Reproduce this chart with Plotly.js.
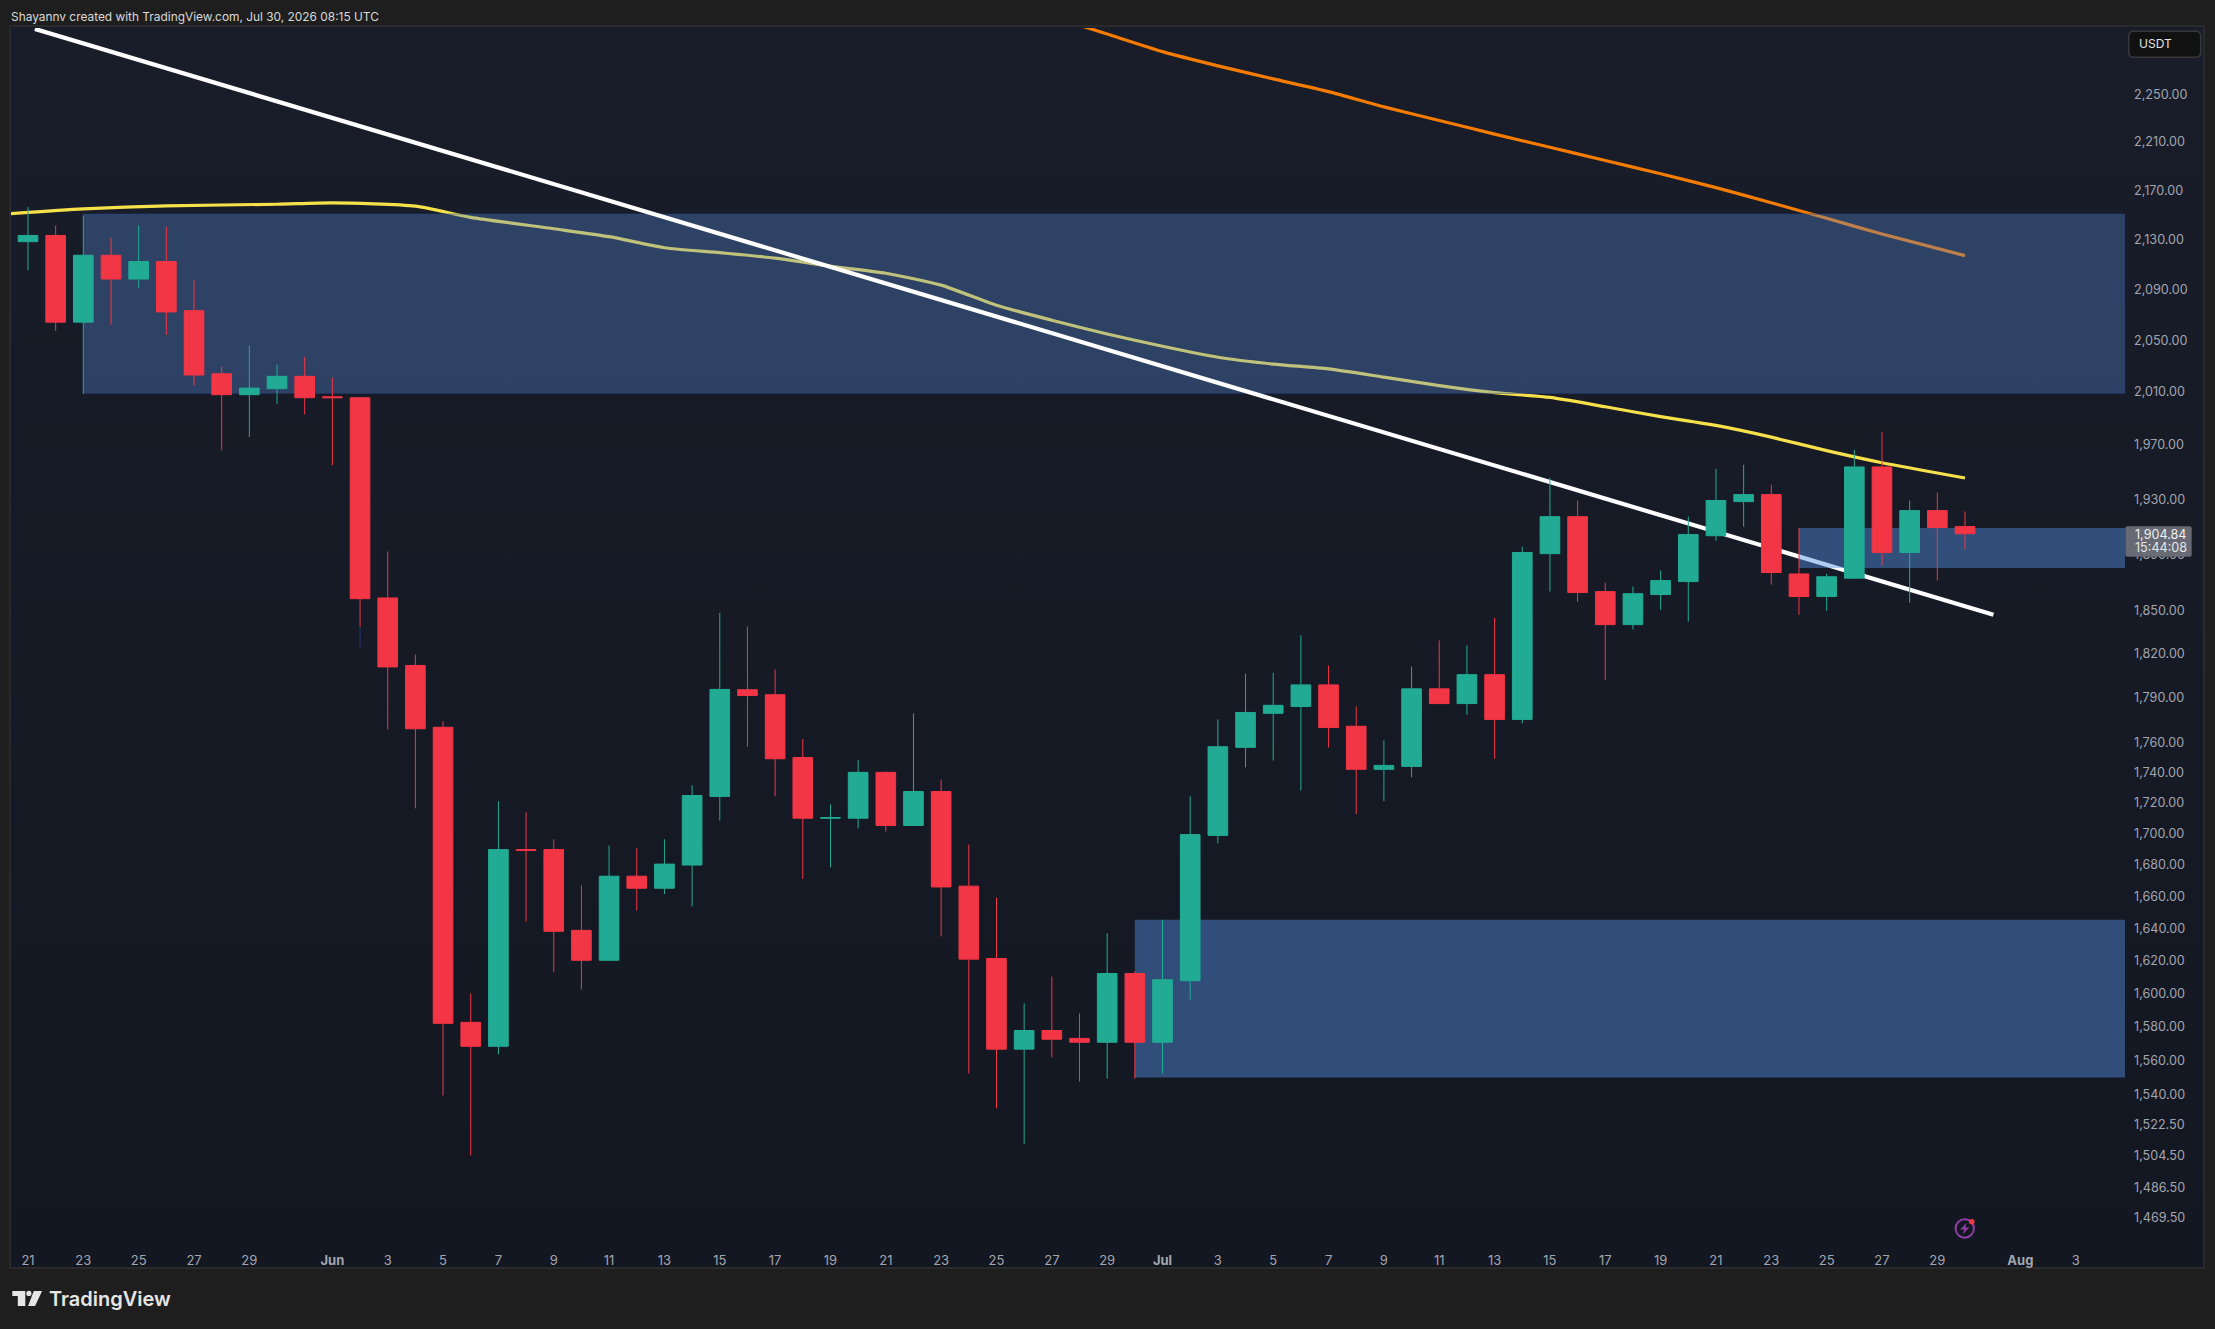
<!DOCTYPE html>
<html>
<head>
<meta charset="utf-8">
<title>ETHUSDT daily</title>
<script src="https://cdn.plot.ly/plotly-3.0.1.min.js"></script>
<style>
  html, body { margin: 0; padding: 0; background: #1e1e1e; }
  #pane { position: absolute; left: 9px; top: 25px; width: 2192px; height: 1240px;
          border: 2px solid #2a2a2d; background: linear-gradient(#181d29, #131722); }
  #chart { position: absolute; left: 0; top: 0; width: 2215px; height: 1329px; }
</style>
</head>
<body>
<div id="pane"></div>
<div id="chart"></div>
<script>
// daily candles, first one is May 21
const startDay = "2026-05-21";
const opens = [2128,2133,2064,2117,2098,2112,2073,2024,2008,2012.6,2022,2006.4,2005.7,1859,1812,1770,1582.6,1568.3,1689.8,1689.8,1638.8,1620.3,1672.8,1665.2,1679.9,1724.2,1795.4,1792,1749.8,1710,1710,1740,1705.3,1727.4,1666.5,1621.4,1566.6,1577.7,1573,1570.7,1612.2,1570.7,1607.8,1698.9,1756.6,1779.4,1784,1798.7,1770.7,1742,1743.9,1796,1786,1805.7,1775.3,1890.5,1917.2,1863.5,1840.3,1861.4,1870.6,1903.4,1928.2,1933.3,1876,1860,1873,1953.7,1891.3,1921.6,1910];
const highs = [2156,2141,2149,2131,2141,2140,2097,2029.4,2045.6,2031,2037,2021,2005.7,1892,1819.5,1774,1600,1721,1713.8,1696.4,1667,1692.4,1690.6,1696.4,1731.5,1848.5,1839,1809.3,1762,1719,1748.3,1740.6,1779.4,1735.3,1693,1659.4,1594,1610.3,1588,1637,1613.5,1645.4,1724.3,1775.3,1806.4,1807,1832.8,1811.9,1784,1761.2,1811.3,1829.3,1825.8,1845,1895.5,1945.7,1929,1869.9,1867,1878.4,1917.2,1952.3,1955.3,1940.6,1909,1876.1,1966.5,1980,1929,1934.8,1921];
const lows = [2105,2057,2008.5,2062,2091,2054,2015,1966,1976,2001,1993,1955,1838.7,1768.5,1716.4,1539.3,1504.7,1563.5,1644.3,1613,1602.5,1620.3,1651.2,1661.5,1653.8,1708.5,1757,1724.3,1671,1678.4,1703.4,1701.3,1705.3,1635,1552.2,1531.8,1511.2,1561.7,1547.5,1549.2,1549.2,1552.2,1596.2,1693.8,1743.3,1747.8,1728,1756.5,1712.6,1721.1,1736.7,1786,1778.5,1749,1772.6,1863.5,1856.2,1802,1836.9,1850.7,1842.4,1899.8,1910,1868.4,1847.2,1850,1872.6,1882,1855.7,1871.3,1893.4];
const closes = [2133,2064,2117,2098,2112,2072,2023,2008,2013,2022,2005.7,2005.7,1858.5,1811,1769,1582,1568.3,1689.8,1689.3,1638.2,1620.3,1672.8,1665.2,1680.5,1724.8,1795.6,1791.5,1749,1710,1710.4,1740,1705.3,1727.4,1666,1621,1566.6,1577.7,1572.5,1570.7,1612.2,1570.7,1608.4,1699.4,1757,1780,1784.8,1798.7,1769.9,1742,1744.6,1796,1786,1805.7,1775.3,1891.3,1917.2,1862.8,1840.3,1862,1871.3,1904.2,1929,1933.3,1877,1860,1874,1953.7,1891.3,1921.6,1909.3,1904.84];

const yellowDays = ["2026-05-20","2026-05-23","2026-05-26","2026-05-30","2026-06-01","2026-06-04","2026-06-06","2026-06-09","2026-06-11","2026-06-13","2026-06-15","2026-06-17","2026-06-19","2026-06-21","2026-06-23","2026-06-25","2026-06-27","2026-06-29","2026-07-01","2026-07-03","2026-07-05","2026-07-07","2026-07-09","2026-07-11","2026-07-13","2026-07-15","2026-07-17","2026-07-19","2026-07-21","2026-07-23","2026-07-25","2026-07-27","2026-07-30"];
const yellowVals = [2150.1,2154.6,2157.1,2158.4,2159.5,2156.8,2147.7,2138.4,2132,2123.1,2119.1,2114.7,2108.2,2102.6,2093.2,2077.3,2065.5,2054.7,2045.2,2036.7,2031.4,2027.7,2021.4,2014.9,2009.5,2005.9,1998.8,1991.3,1984.7,1975.9,1965.8,1956.8,1945.5];

const orangeDays = ["2026-06-27","2026-06-29","2026-07-01","2026-07-03","2026-07-05","2026-07-07","2026-07-09","2026-07-11","2026-07-13","2026-07-15","2026-07-17","2026-07-19","2026-07-21","2026-07-23","2026-07-25","2026-07-27","2026-07-30"];
const orangeVals = [2317.8,2302.3,2287,2274.7,2263.5,2252.6,2239.6,2228.1,2216.6,2205.5,2194.5,2183.5,2172,2159.6,2146.9,2134.1,2116.7];

const trendDays = ["2026-05-21 06:00","2026-07-31 00:40"];
const trendVals = [2306.8,1847.2];

// zones: start day, top price, bottom price
const rangeStart = "2026-05-20 09:16";
const rangeEnd = "2026-08-04 18:46";
const supplyZone = ["2026-05-23", 2150.4, 2009];
const demandZone = ["2026-06-30", 1645.4, 1549.9];
const flipZone = ["2026-07-24", 1909, 1880.2];

const priceTicks = [2250,2210,2170,2130,2090,2050,2010,1970,1930,1890,1850,1820,1790,1760,1740,1720,1700,1680,1660,1640,1620,1600,1580,1560,1540,1522.5,1504.5,1486.5,1469.5];
const dayTicks = ["2026-05-21","2026-05-23","2026-05-25","2026-05-27","2026-05-29","2026-06-01","2026-06-03","2026-06-05","2026-06-07","2026-06-09","2026-06-11","2026-06-13","2026-06-15","2026-06-17","2026-06-19","2026-06-21","2026-06-23","2026-06-25","2026-06-27","2026-06-29","2026-07-01","2026-07-03","2026-07-05","2026-07-07","2026-07-09","2026-07-11","2026-07-13","2026-07-15","2026-07-17","2026-07-19","2026-07-21","2026-07-23","2026-07-25","2026-07-27","2026-07-29","2026-08-01","2026-08-03"];
const dayLabels = ["21","23","25","27","29","<b>Jun</b>","3","5","7","9","11","13","15","17","19","21","23","25","27","29","<b>Jul</b>","3","5","7","9","11","13","15","17","19","21","23","25","27","29","<b>Aug</b>","3"];

const dates = opens.map((_, i) => new Date(Date.parse(startDay) + i * 864e5).toISOString().slice(0, 10));
const fmt = (v) => v.toLocaleString("en-US", { minimumFractionDigits: 2, maximumFractionDigits: 2 });

// pixel position on the page -> paper fraction of the plot area
const L = 10.7, R = 2125.3, T = 27.7, B = 1242;
const fx = (x) => (x - L) / (R - L);
const fy = (y) => (B - y) / (B - T);
const FONT = "Inter, Roboto, sans-serif";

function zoneTrace(zone, fill, edge, z) {
  return {
    type: "scatter", mode: "lines", fill: "toself", fillcolor: fill, zorder: z,
    x: [zone[0], rangeEnd, rangeEnd, zone[0], zone[0]],
    y: [zone[1], zone[1], zone[2], zone[2], zone[1]],
    line: { width: 1, color: edge },
  };
}

function polygon(points, color) {
  const d = points.map((p, i) => (i ? "L" : "M") + fx(p[0]) + "," + fy(p[1])).join(" ") + " Z";
  return { type: "path", xref: "paper", yref: "paper", path: d, fillcolor: color, line: { width: 0 }, layer: "above" };
}

function circle(cx, cy, r, fill, stroke) {
  return {
    type: "circle", xref: "paper", yref: "paper", layer: "above",
    x0: fx(cx - r), x1: fx(cx + r), y0: fy(cy + r), y1: fy(cy - r),
    fillcolor: fill, line: { width: stroke ? 2 : 0, color: stroke || fill },
  };
}

function roundBox(x0, y0, x1, y1, r, fill, edge) {
  const P = (x, y) => fx(x) + "," + fy(y);
  const d = "M" + P(x0 + r, y0) + " L" + P(x1 - r, y0) + " Q" + P(x1, y0) + " " + P(x1, y0 + r) +
    " L" + P(x1, y1 - r) + " Q" + P(x1, y1) + " " + P(x1 - r, y1) +
    " L" + P(x0 + r, y1) + " Q" + P(x0, y1) + " " + P(x0, y1 - r) +
    " L" + P(x0, y0 + r) + " Q" + P(x0, y0) + " " + P(x0 + r, y0) + " Z";
  return { type: "path", xref: "paper", yref: "paper", layer: "above", path: d, fillcolor: fill, line: edge ? { color: edge, width: 1.5 } : { width: 0 } };
}

function label(text, x, y, size, color, anchor, weight) {
  return {
    text, xref: "paper", yref: "paper", x: fx(x), y: fy(y), xanchor: anchor || "left", yanchor: "middle",
    showarrow: false, borderpad: 0, font: { family: FONT, size, color, weight: weight || 400 },
  };
}

const traces = [
  { type: "scatter", mode: "lines", x: yellowDays, y: yellowVals, line: { color: "#f7e14b", width: 3.2, shape: "spline", smoothing: 0.6 }, zorder: 0 },
  { type: "scatter", mode: "lines", x: orangeDays, y: orangeVals, line: { color: "#f57c00", width: 3.2, shape: "spline", smoothing: 0.6 }, zorder: 0 },
  zoneTrace(supplyZone, "rgba(88,138,215,0.35)", "rgba(40,66,130,0.55)", 1),
  { type: "scatter", mode: "lines", x: trendDays, y: trendVals, line: { color: "#ffffff", width: 4.2 }, zorder: 2 },
  zoneTrace(demandZone, "rgba(85,145,229,0.45)", "rgba(0,0,0,0)", 3),
  zoneTrace(flipZone, "rgba(85,145,229,0.45)", "rgba(0,0,0,0)", 3),
  {
    type: "candlestick", x: dates, open: opens, high: highs, low: lows, close: closes, zorder: 4,
    whiskerwidth: 0,
    increasing: { line: { color: "#22ab94", width: 1 }, fillcolor: "#22ab94" },
    decreasing: { line: { color: "#f23645", width: 1 }, fillcolor: "#f23645" },
  },
  // bottom of the Jun 2 wick is drawn dark blue in the source
  { type: "scatter", mode: "lines", x: ["2026-06-02", "2026-06-02"], y: [1838.7, 1824.4], line: { color: "#1f3a70", width: 1 }, zorder: 5 },
];

const layout = {
  width: 2215, height: 1329,
  margin: { l: L, r: 2215 - R, t: T, b: 1329 - B, pad: 0 },
  paper_bgcolor: "rgba(0,0,0,0)", plot_bgcolor: "rgba(0,0,0,0)",
  showlegend: false, hovermode: false, dragmode: false,
  boxmode: "overlay", boxgap: 0.29, boxgroupgap: 0,
  font: { family: FONT },
  xaxis: {
    type: "date", range: [rangeStart, rangeEnd], rangeslider: { visible: false },
    tickmode: "array", tickvals: dayTicks, ticktext: dayLabels,
    showgrid: false, zeroline: false, showline: true, linecolor: "#2b2f39", linewidth: 1.5,
    ticks: "", ticklabelstandoff: 6, tickangle: 0,
    tickfont: { family: FONT, size: 13, color: "#a3a6af" },
  },
  yaxis: {
    type: "log", side: "right", range: [Math.log10(1456.1), Math.log10(2307.6)],
    tickmode: "array", tickvals: priceTicks, ticktext: priceTicks.map(fmt),
    showgrid: false, zeroline: false, showline: true, linecolor: "#2b2f39", linewidth: 1.5,
    ticks: "", ticklabelstandoff: 5,
    tickfont: { family: FONT, size: 12.6, color: "#a3a6af" },
  },
  shapes: [
    // USDT box
    roundBox(2129, 31, 2201, 57, 5, "#111111", "#38383c"),
    // last price tag
    roundBox(2125.6, 526, 2192, 556.7, 2, "rgba(108,110,120,0.95)"),
    // TradingView logo
    polygon([[12, 1291], [25, 1291], [25, 1306], [17.5, 1306], [17.5, 1296], [12, 1296]], "#e6e6e6"),
    circle(28.6, 1293.4, 2.6, "#e6e6e6"),
    polygon([[33.5, 1291], [41.8, 1291], [34.8, 1306], [27.8, 1306]], "#e6e6e6"),
    // alert icon
    circle(1965, 1228.5, 9.2, "rgba(0,0,0,0)", "#8e3fa6"),
    polygon([[1967, 1222.5], [1960.5, 1229.5], [1964.6, 1229.5], [1963, 1234.5], [1969.5, 1227.5], [1965.4, 1227.5]], "#8e3fa6"),
    circle(1972, 1221.8, 2.8, "#f23645"),
  ],
  annotations: [
    label("Shayannv created with TradingView.com, Jul 30, 2026 08:15 UTC", 9.5, 15.7, 11.9, "#d9d9d9"),
    label("USDT", 2138, 43.7, 12, "#e3e3e3"),
    label(fmt(closes[closes.length - 1]), 2134, 534, 12.6, "#f0f0f0"),
    label("15:44:08", 2134, 547.7, 12.6, "#e6e6e6"),
    label("TradingView", 47.5, 1299, 20, "#e6e6e6", "left", 600),
  ],
};

Plotly.newPlot("chart", traces, layout, { displayModeBar: false, staticPlot: true });
</script>
</body>
</html>
